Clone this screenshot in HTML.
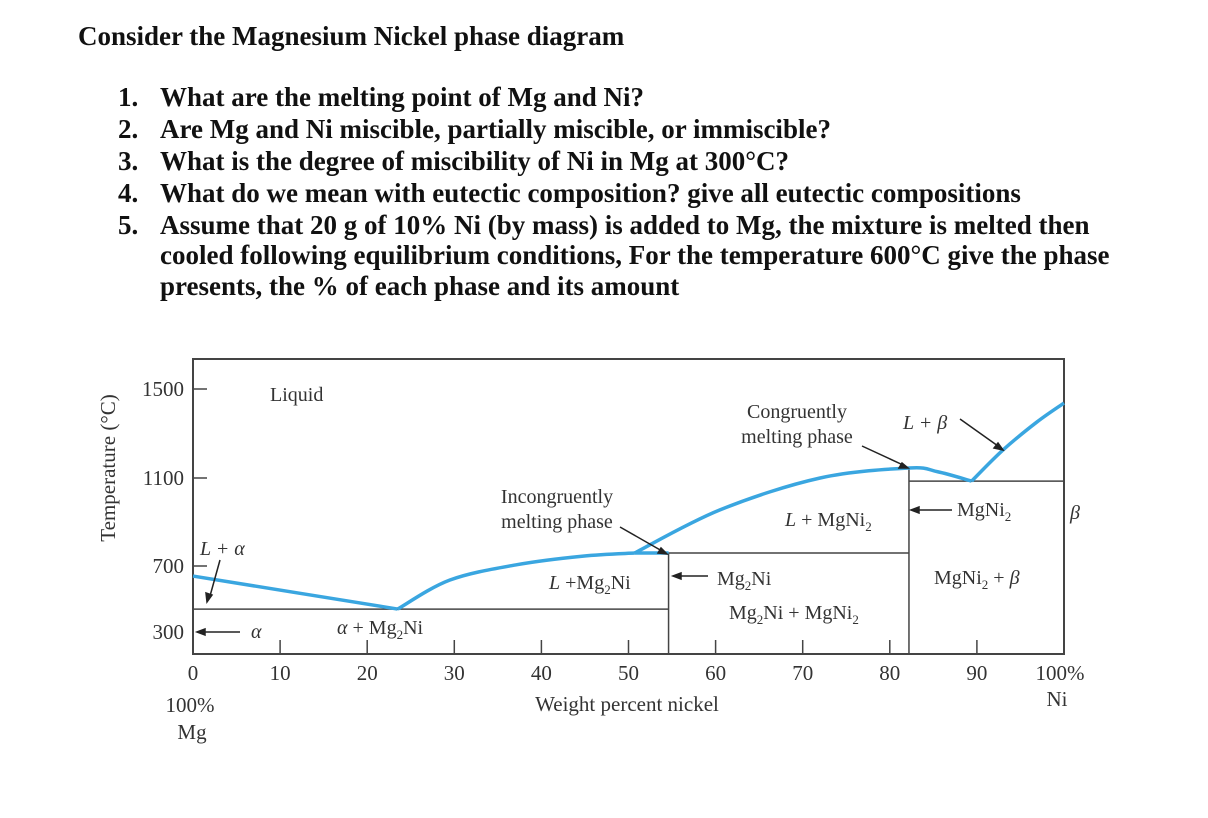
<!DOCTYPE html>
<html><head><meta charset="utf-8"><style>
body{margin:0;background:#fff;}
svg{display:block;font-family:"Liberation Serif",serif;}
.q{font-weight:bold;font-size:27px;fill:#111;}
.l{font-size:20px;fill:#333;}
.t{font-size:21px;fill:#333;}
</style></head><body>
<svg id="chart" width="1208" height="818" viewBox="0 0 1208 818">
<text class="q" x="78" y="45" font-size="28">Consider the Magnesium Nickel phase diagram</text>
<g>
<text class="q" x="118" y="106">1.</text><text class="q" x="160" y="106">What are the melting point of Mg and Ni?</text>
<text class="q" x="118" y="138">2.</text><text class="q" x="160" y="138">Are Mg and Ni miscible, partially miscible, or immiscible?</text>
<text class="q" x="118" y="170">3.</text><text class="q" x="160" y="170">What is the degree of miscibility of Ni in Mg at 300°C?</text>
<text class="q" x="118" y="202">4.</text><text class="q" x="160" y="202">What do we mean with eutectic composition? give all eutectic compositions</text>
<text class="q" x="118" y="234">5.</text><text class="q" x="160" y="234">Assume that 20 g of 10% Ni (by mass) is added to Mg, the mixture is melted then</text>
<text class="q" x="160" y="264">cooled following equilibrium conditions, For the temperature 600°C give the phase</text>
<text class="q" x="160" y="295">presents, the % of each phase and its amount</text>
</g>
<rect x="193" y="359" width="871" height="295" fill="none" stroke="#444" stroke-width="2"/>
<g id="axes"></g>
<g id="marks"></g>
<g class="l">
<text x="270" y="401">Liquid</text>
<text x="797" y="418" text-anchor="middle">Congruently</text>
<text x="797" y="443" text-anchor="middle">melting phase</text>
<text x="903" y="429" font-style="italic">L + β</text>
<text x="557" y="503" text-anchor="middle">Incongruently</text>
<text x="557" y="528" text-anchor="middle">melting phase</text>
<text x="785" y="526"><tspan font-style="italic">L</tspan> + MgNi<tspan font-size="13" dy="5">2</tspan></text>
<text x="957" y="516">MgNi<tspan font-size="13" dy="5">2</tspan></text>
<text x="1070" y="519" font-style="italic">β</text>
<text x="200" y="555" font-style="italic">L + α</text>
<text x="549" y="589"><tspan font-style="italic">L</tspan> +Mg<tspan font-size="13" dy="5">2</tspan><tspan dy="-5">Ni</tspan></text>
<text x="717" y="585">Mg<tspan font-size="13" dy="5">2</tspan><tspan dy="-5">Ni</tspan></text>
<text x="729" y="619">Mg<tspan font-size="13" dy="5">2</tspan><tspan dy="-5">Ni + MgNi</tspan><tspan font-size="13" dy="5">2</tspan></text>
<text x="934" y="584">MgNi<tspan font-size="13" dy="5">2</tspan><tspan dy="-5"> + </tspan><tspan font-style="italic">β</tspan></text>
<text x="337" y="634"><tspan font-style="italic">α</tspan> + Mg<tspan font-size="13" dy="5">2</tspan><tspan dy="-5">Ni</tspan></text>
<text x="251" y="638" font-style="italic">α</text>
</g>
<g stroke="#222" stroke-width="1.5" fill="#222">
<line x1="220" y1="560" x2="210" y2="596"/><path d="M207,602 l-1,-9 6,2z"/>
<line x1="240" y1="632" x2="202" y2="632"/><path d="M197,632 l8,-3 0,6z"/>
<line x1="952" y1="510" x2="916" y2="510"/><path d="M911,510 l8,-3 0,6z"/>
<line x1="708" y1="576" x2="678" y2="576"/><path d="M673,576 l8,-3 0,6z"/>
<line x1="620" y1="527" x2="662" y2="551"/><path d="M667,554 l-9,-1 3,-5z"/>
<line x1="862" y1="446" x2="903" y2="465"/><path d="M908,468 l-9,0 3,-5z"/>
<line x1="960" y1="419" x2="998" y2="446"/><path d="M1003,450 l-9,-2 4,-5z"/>
</g>
<g class="t">
<text x="627" y="711" text-anchor="middle">Weight percent nickel</text>
<text x="190" y="712" text-anchor="middle">100%</text>
<text x="192" y="739" text-anchor="middle">Mg</text>
<text x="1057" y="706" text-anchor="middle">Ni</text>
<text transform="translate(115,468) rotate(-90)" text-anchor="middle">Temperature (°C)</text>
</g>
</svg>
<script>
const xTicks=[0,10,20,30,40,50,60,70,80,90,100];
const xTickLabels=["0","10","20","30","40","50","60","70","80","90","100%"];
const yTicks=[300,700,1100,1500];
const yPix=[632,566,478,389];
const mgSideX=[0,23.5];
const mgSideT=[639,439];
const mg2niLiqX=[23.5,29.5,37.2,44.8,50.7];
const mg2niLiqT=[439,615,706,745,759];
const mgni2LiqX=[50.7,60.5,72,82.2,85.5,89.4];
const mgni2LiqT=[759,955,1100,1145,1128,1086];
const niLiqX=[89.4,93,96.9,100];
const niLiqT=[1086,1226,1352,1437];
const eut1T=439, peritT=759, eut2T=1086;
const mg2niX=54.6, mgni2X=82.2;
const NS="http://www.w3.org/2000/svg";
function X(v){return 193+v*8.71;}
function Y(t){
  if(t<=yTicks[0])return yPix[0]+(yTicks[0]-t)*(yPix[0]-yPix[1])/400;
  for(let i=0;i<yTicks.length-1;i++){if(t<=yTicks[i+1])return yPix[i]+(t-yTicks[i])/(yTicks[i+1]-yTicks[i])*(yPix[i+1]-yPix[i]);}
  const n=yTicks.length-1;return yPix[n]+(t-yTicks[n])/400*(yPix[n]-yPix[n-1]);
}
const BOTTOM=654;
function mk(tag,attrs,parent){const e=document.createElementNS(NS,tag);for(const k in attrs)e.setAttribute(k,attrs[k]);parent.appendChild(e);return e;}
const axes=document.getElementById('axes'),marks=document.getElementById('marks');
xTicks.forEach((v,i)=>{
  if(v>0&&v<100){const l=mk('line',{x1:X(v),x2:X(v),y1:BOTTOM,y2:BOTTOM-14,stroke:'#444','stroke-width':1.5},axes);
  
  }
  const t=mk('text',{x:X(v)+(v==100?-4:0),y:680,'text-anchor':'middle','font-size':21,fill:'#333'},axes);
  
  
  t.textContent=xTickLabels[i];
});
yTicks.forEach((v)=>{
  if(v>300){const l=mk('line',{x1:193,x2:207,y1:Y(v),y2:Y(v),stroke:'#444','stroke-width':1.5},axes);
  
  }
  const t=mk('text',{x:184,y:Y(v)+7,'text-anchor':'end','font-size':21,fill:'#333'},axes);
  
  
  t.textContent=String(v);
});
function bl(x1,y1,x2,y2,name){const l=mk('line',{x1:X(x1),y1:y1,x2:X(x2),y2:y2,stroke:'#444','stroke-width':1.5},marks);
  
  return l;}
bl(0,Y(eut1T),mg2niX,Y(eut1T),'mg-eutectic-line');
bl(mg2niX,Y(peritT),mgni2X,Y(peritT),'peritectic-line');
bl(mgni2X,Y(eut2T),100,Y(eut2T),'ni-eutectic-line');
bl(mg2niX,Y(peritT),mg2niX,BOTTOM,'mg2ni-phase-line');
bl(mgni2X,Y(Math.max(...mgni2LiqT)),mgni2X,BOTTOM,'mgni2-phase-line');
function smooth(xs,ts){const p=xs.map((x,i)=>[X(x),Y(ts[i])]);let d='M'+p[0][0]+','+p[0][1];
  for(let i=0;i<p.length-1;i++){const p0=p[Math.max(0,i-1)],p1=p[i],p2=p[i+1],p3=p[Math.min(p.length-1,i+2)];
   d+=' C'+(p1[0]+(p2[0]-p0[0])/6)+','+(p1[1]+(p2[1]-p0[1])/6)+' '+(p2[0]-(p3[0]-p1[0])/6)+','+(p2[1]-(p3[1]-p1[1])/6)+' '+p2[0]+','+p2[1];}
  return d;}
function curve(xs,ts,name){const c=mk('path',{d:smooth(xs,ts),fill:'none',stroke:'#3aa6e0','stroke-width':3.5},marks);
  
  }
curve(mgSideX,mgSideT,'mg-liquidus');
curve(mg2niLiqX,mg2niLiqT,'mg2ni-liquidus');
const ps=bl(mg2niLiqX[mg2niLiqX.length-1],Y(peritT),mg2niX,Y(peritT),'peritectic-segment');
ps.setAttribute('stroke','#3aa6e0');ps.setAttribute('stroke-width','3.5');
curve(mgni2LiqX,mgni2LiqT,'mgni2-liquidus');
curve(niLiqX,niLiqT,'ni-liquidus');
</script>
</body></html>
